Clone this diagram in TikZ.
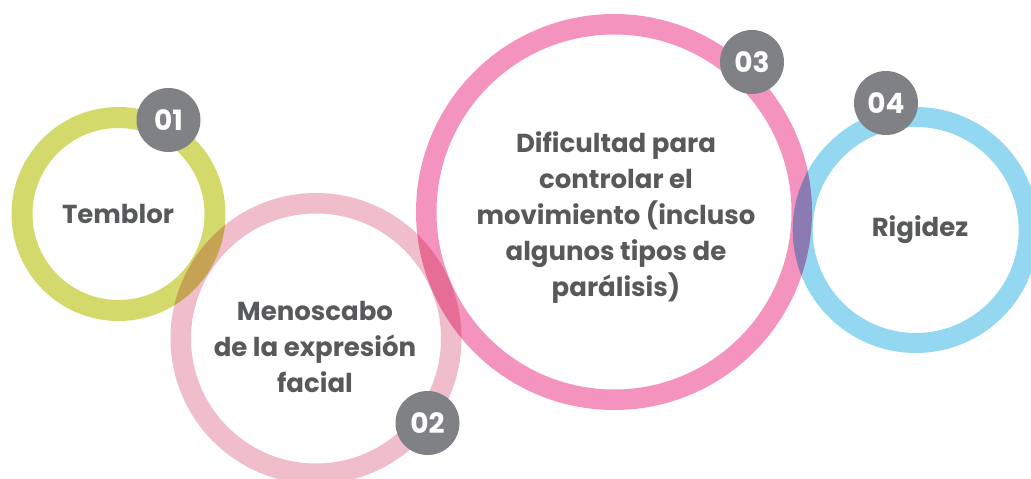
\documentclass[tikz,border=0pt]{standalone}
\usepackage{fontspec}
\setmainfont{Poppins}
\definecolor{ringgreen}{HTML}{D3DA6B}
\definecolor{ringrose}{HTML}{F0BECB}
\definecolor{ringpink}{HTML}{F493BD}
\definecolor{ringblue}{HTML}{93D7F1}
\definecolor{badgegray}{HTML}{808184}
\definecolor{txtgray}{HTML}{58595B}
\begin{document}
\begin{tikzpicture}[x=1pt,y=-1pt,
  ring/.style={circle,draw=#1,inner sep=0pt,outer sep=0pt},
  badge/.style={circle,fill=badgegray,inner sep=0pt,minimum size=64pt,
    text=white,font=\fontsize{28}{30}\selectfont\bfseries},
  label/.style={text=txtgray,inner sep=0pt,align=center,
    font=\fontsize{26}{36}\selectfont\bfseries}]
\useasboundingbox (0,0) rectangle (1031,479);
\begin{scope}[blend mode=multiply]
\node[ring=ringgreen,line width=21pt,minimum size=193pt] (c1) at (118.5,214) {};
\node[ring=ringrose,line width=20.5pt,minimum size=270.5pt] (c2) at (316,338.5) {};
\node[ring=ringpink,line width=20.5pt,minimum size=375.5pt] (c3) at (614,212) {};
\node[ring=ringblue,line width=20pt,minimum size=226pt] (c4) at (915.7,230) {};
\end{scope}
\node[label,anchor=base] (t1) at (118,223) {Temblor};
\node[label] (t2) at (315,346.5) {Menoscabo\\de la expresión\\facial};
\node[label] (t3) at (616,217.5) {Dificultad para\\controlar el\\movimiento (incluso\\algunos tipos de\\parálisis)};
\node[label,anchor=base] (t4) at (920,236.7) {Rigidez};
\node[badge] (b1) at (168.5,120) {01};
\node[badge] (b2) at (427.5,423) {02};
\node[badge] (b3) at (752,62) {03};
\node[badge] (b4) at (886,103) {04};
\end{tikzpicture}
\end{document}
